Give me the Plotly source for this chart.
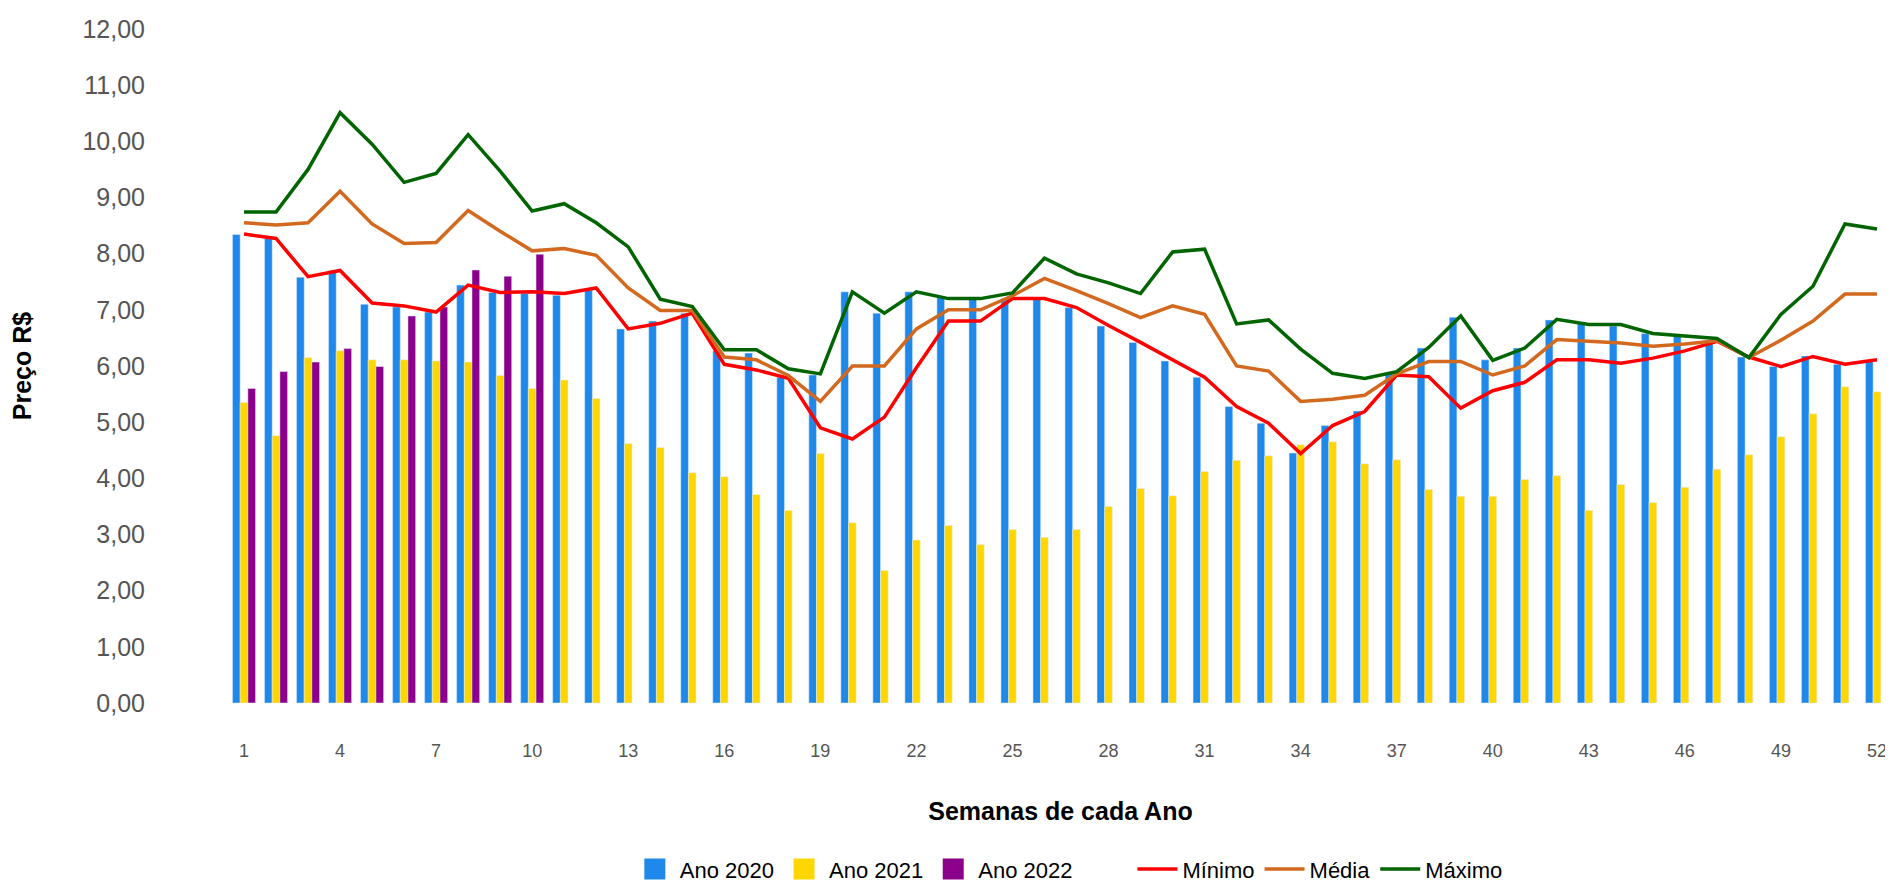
import plotly.graph_objects as go

# Semanas 1..52
semanas = list(range(1, 53))

ano_2020 = [
    8.34, 8.27, 7.58, 7.70, 7.10, 7.05, 6.96, 7.44, 7.31, 7.29,
    7.26, 7.35, 6.66, 6.80, 6.94, 6.27, 6.23, 5.80, 5.84, 7.32,
    6.94, 7.32, 7.22, 7.20, 7.20, 7.20, 7.04, 6.71, 6.42, 6.09,
    5.80, 5.28, 4.98, 4.45, 4.94, 5.20, 5.87, 6.32, 6.87, 6.11,
    6.32, 6.82, 6.76, 6.71, 6.58, 6.54, 6.44, 6.16, 5.99, 6.18,
    6.03, 6.09,
]

ano_2021 = [
    5.35, 4.76, 6.15, 6.27, 6.11, 6.11, 6.09, 6.07, 5.83, 5.60,
    5.75, 5.42, 4.62, 4.55, 4.10, 4.03, 3.71, 3.43, 4.44, 3.21,
    2.36, 2.90, 3.16, 2.82, 3.09, 2.95, 3.09, 3.50, 3.82, 3.69,
    4.12, 4.32, 4.40, 4.60, 4.65, 4.26, 4.33, 3.80, 3.68, 3.68,
    3.98, 4.05, 3.43, 3.89, 3.57, 3.84, 4.16, 4.42, 4.74, 5.15,
    5.63, 5.54,
]

ano_2022 = [5.60, 5.90, 6.07, 6.31, 5.99, 6.89, 7.05, 7.71, 7.60, 7.99]

minimo = [
    8.35, 8.27, 7.59, 7.70, 7.12, 7.07, 6.96, 7.44, 7.31, 7.32,
    7.29, 7.39, 6.66, 6.76, 6.94, 6.03, 5.93, 5.78, 4.90, 4.70,
    5.09, 5.97, 6.80, 6.80, 7.20, 7.20, 7.04, 6.72, 6.42, 6.11,
    5.80, 5.28, 4.98, 4.44, 4.94, 5.19, 5.84, 5.81, 5.25, 5.56,
    5.71, 6.11, 6.11, 6.05, 6.14, 6.27, 6.44, 6.16, 5.99, 6.17,
    6.03, 6.11,
]

media = [
    8.55, 8.51, 8.55, 9.11, 8.53, 8.18, 8.20, 8.77, 8.40, 8.05,
    8.09, 7.97, 7.39, 6.99, 6.99, 6.16, 6.11, 5.83, 5.37, 6.00,
    6.00, 6.66, 7.00, 7.00, 7.25, 7.56, 7.34, 7.11, 6.86, 7.07,
    6.92, 6.00, 5.91, 5.37, 5.41, 5.48, 5.86, 6.08, 6.08, 5.84,
    6.00, 6.47, 6.44, 6.41, 6.35, 6.39, 6.45, 6.15, 6.46, 6.80,
    7.28, 7.28,
]

maximo = [
    8.74, 8.74, 9.50, 10.51, 9.95, 9.27, 9.43, 10.12, 9.47, 8.76,
    8.89, 8.55, 8.12, 7.19, 7.06, 6.29, 6.29, 5.95, 5.86, 7.32,
    6.94, 7.32, 7.20, 7.20, 7.30, 7.92, 7.64, 7.48, 7.29, 8.03,
    8.08, 6.75, 6.82, 6.30, 5.87, 5.78, 5.90, 6.33, 6.89, 6.10,
    6.32, 6.83, 6.74, 6.74, 6.58, 6.54, 6.49, 6.15, 6.92, 7.42,
    8.53, 8.44,
]

tick_semanas = list(range(1, 53, 3))

FONT = "Liberation Sans, Arial, sans-serif"

BAR_SERIES = [
    ("Ano 2020", ano_2020, "#1e88eb"),
    ("Ano 2021", ano_2021, "#ffd700"),
    ("Ano 2022", ano_2022, "#8b008b"),
]
LINE_SERIES = [
    ("Mínimo", minimo, "#ff0000"),
    ("Média", media, "#d2691e"),
    ("Máximo", maximo, "#006400"),
]

fig = go.Figure()

# bars (legend drawn with bigger square swatches below)
for name, vals, color in BAR_SERIES:
    fig.add_trace(go.Bar(x=semanas[:len(vals)], y=vals, name=name,
                         marker_color=color, showlegend=False))

for name, vals, color in LINE_SERIES:
    fig.add_trace(go.Scatter(x=semanas, y=vals, name=name, mode="lines",
                             line=dict(color=color, width=3.5), legendrank=3))

# legend swatches for the bar series
for name, vals, color in BAR_SERIES:
    fig.add_trace(go.Scatter(
        x=[None], y=[None], name=name, mode="markers", legendrank=1,
        marker=dict(symbol="square", size=16, color=color,
                    line=dict(color=color, width=5)),
    ))

# empty legend entry = extra gap between the two legend groups
fig.add_trace(go.Scatter(x=[None], y=[None], name="", mode="lines", legendrank=2,
                         line=dict(color="rgba(0,0,0,0)", width=0)))

# page body has an 8px margin -> figure is 8px smaller than the window
fig.update_layout(
    width=1885, height=876,
    paper_bgcolor="white", plot_bgcolor="white",
    font=dict(family=FONT, color="#555555"),
    separators=",.",
    barmode="group",
    bargap=0.28,
    bargroupgap=0,
    margin=dict(l=220, r=0, t=21, b=181),
    showlegend=True,
    legend=dict(
        orientation="h",
        xref="paper", x=0.505, xanchor="center",
        yref="container", y=0.017, yanchor="middle",
        font=dict(size=22, color="#000000"),
        itemwidth=40,
    ),
    xaxis=dict(
        range=[0.5, 52.5],
        tickmode="array", tickvals=tick_semanas,
        tickfont=dict(size=18, color="#555555"),
        ticklabelstandoff=35,
        showgrid=False, zeroline=False, showline=False,
        automargin=False,
        title=dict(text="<b>Semanas de cada Ano</b>",
                   font=dict(size=25, color="#000000"), standoff=42),
    ),
    yaxis=dict(
        range=[0, 12],
        dtick=1, tickformat=".2f",
        tickfont=dict(size=25, color="#555555"),
        ticklabelstandoff=82,
        showgrid=False, zeroline=False, showline=False,
        automargin=False,
        title=dict(text="<b>Preço R$</b>",
                   font=dict(size=25, color="#000000"), standoff=44),
    ),
)

fig.write_html("out.html")
